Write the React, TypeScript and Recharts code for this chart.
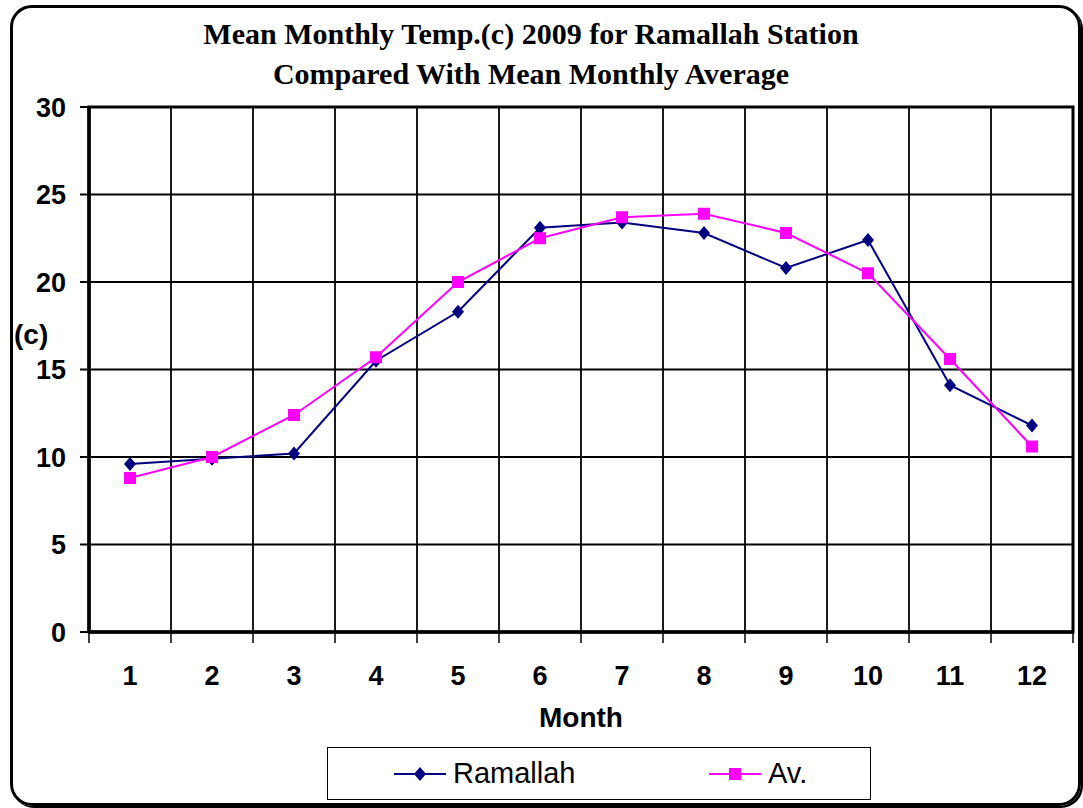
import React from 'react'
import { LineChart, Line, XAxis, YAxis, CartesianGrid, Legend, ReferenceArea } from 'recharts'

const months = [1, 2, 3, 4, 5, 6, 7, 8, 9, 10, 11, 12]
const ramallah = [9.6, 9.9, 10.2, 15.5, 18.3, 23.1, 23.4, 22.8, 20.8, 22.4, 14.1, 11.8]
const average = [8.8, 10.0, 12.4, 15.7, 20.0, 22.5, 23.7, 23.9, 22.8, 20.5, 15.6, 10.6]
const yTicks = [0, 5, 10, 15, 20, 25, 30]

const data = months.map((m, i) => ({ month: m, ramallah: ramallah[i], av: average[i] }))
// category boundaries for the vertical grid
const boundaries = [...months.map((m) => m - 0.5), months[months.length - 1] + 0.5]
const xDomain = [boundaries[0], boundaries[boundaries.length - 1]]

const sans = '"Liberation Sans", Arial, sans-serif'
const serif = '"Liberation Serif", "Times New Roman", serif'
const NAVY = '#000080'
const MAGENTA = '#FF00FF'

const Diamond = (props: any) => {
  const { cx, cy } = props
  if (cx == null || cy == null) return null
  return <polygon points={`${cx},${cy - 7} ${cx + 6},${cy} ${cx},${cy + 7} ${cx - 6},${cy}`} fill={NAVY} />
}

const Square = (props: any) => {
  const { cx, cy } = props
  if (cx == null || cy == null) return null
  return <rect x={cx - 6} y={cy - 6} width={12} height={12} fill={MAGENTA} />
}

const EmptyTick = () => <g />

const legendOrder = ['ramallah', 'av']

const LegendBox = (props: any) => {
  const { payload = [] } = props
  const items = legendOrder.map((k) => payload.find((p: any) => p.dataKey === k)).filter(Boolean)
  return (
    <div
      style={{
        width: '100%',
        height: '100%',
        boxSizing: 'border-box',
        border: '1.5px solid #000',
        background: '#fff',
        position: 'relative',
        fontFamily: sans,
        fontSize: 29,
        color: '#000',
      }}
    >
      {items.map((entry: any, i: number) => (
        <div
          key={entry.value}
          style={{ position: 'absolute', left: i === 0 ? 66 : 381, top: 9, display: 'flex', alignItems: 'center', lineHeight: '33px' }}
        >
          <svg width={52} height={20} style={{ marginRight: 7 }}>
            <line x1={0} y1={10} x2={52} y2={10} stroke={entry.color} strokeWidth={2} />
            {entry.dataKey === 'ramallah' ? (
              <polygon points="26,3 32,10 26,17 20,10" fill={entry.color} />
            ) : (
              <rect x={20} y={4} width={12} height={12} fill={entry.color} />
            )}
          </svg>
          <span>{entry.value}</span>
        </div>
      ))}
    </div>
  )
}

export default function App() {
  return (
    <div style={{ position: 'absolute', left: 0, top: 0, width: 1083, height: 808, background: '#fff', overflow: 'hidden' }}>
      <div
        style={{
          position: 'absolute',
          left: 10,
          top: 5,
          width: 1071,
          height: 801,
          boxSizing: 'border-box',
          border: '3px solid #000',
          borderRadius: 22,
          boxShadow: '2px 2px 0 #000',
        }}
      />
      <div
        style={{
          position: 'absolute',
          left: 0,
          top: 14,
          width: 1062,
          textAlign: 'center',
          fontFamily: serif,
          fontWeight: 'bold',
          fontSize: 30,
          lineHeight: '40px',
          color: '#000',
        }}
      >
        <div>Mean Monthly Temp.(c) 2009 for Ramallah Station</div>
        <div>Compared With Mean Monthly Average</div>
      </div>
      <div style={{ position: 'absolute', left: 14, top: 321, fontFamily: sans, fontWeight: 'bold', fontSize: 28, lineHeight: '27px' }}>
        (c)
      </div>
      <div
        style={{
          position: 'absolute',
          left: 481,
          top: 704,
          width: 200,
          textAlign: 'center',
          fontFamily: sans,
          fontWeight: 'bold',
          fontSize: 28,
          lineHeight: '27px',
        }}
      >
        Month
      </div>
      <div style={{ position: 'absolute', left: 0, top: 0 }}>
        <LineChart width={1083} height={808} data={data} margin={{ top: 107, right: 10, left: 0, bottom: 125 }}>
          <CartesianGrid xAxisId="b" stroke="#000" strokeWidth={1.8} verticalFill={[]} horizontalFill={[]} />
          <XAxis
            xAxisId="b"
            type="number"
            dataKey="month"
            domain={xDomain}
            ticks={boundaries}
            interval={0}
            tick={EmptyTick}
            tickSize={11}
            tickLine={{ stroke: '#000', strokeWidth: 1.5 }}
            axisLine={{ stroke: '#000', strokeWidth: 3.5 }}
            height={11}
          />
          <XAxis
            xAxisId="m"
            type="number"
            dataKey="month"
            domain={xDomain}
            ticks={months}
            interval={0}
            tickLine={false}
            axisLine={false}
            tickSize={0}
            tickMargin={23}
            height={40}
            tick={{ fill: '#000', fontFamily: sans, fontWeight: 'bold', fontSize: 27 }}
          />
          <YAxis
            type="number"
            domain={[0, 30]}
            ticks={yTicks}
            interval={0}
            width={89}
            tickSize={9}
            tickMargin={14}
            tickLine={{ stroke: '#000', strokeWidth: 2 }}
            axisLine={{ stroke: '#000', strokeWidth: 3.5 }}
            tick={{ fill: '#000', fontFamily: sans, fontWeight: 'bold', fontSize: 27 }}
          />
          <ReferenceArea xAxisId="b" x1={xDomain[0]} x2={xDomain[1]} y1={0} y2={30} fill="none" fillOpacity={0} stroke="#000" strokeWidth={3} />
          <Line
            xAxisId="m"
            dataKey="ramallah"
            name="Ramallah"
            stroke={NAVY}
            strokeWidth={2}
            dot={<Diamond />}
            activeDot={false}
            isAnimationActive={false}
          />
          <Line
            xAxisId="m"
            dataKey="av"
            name="Av."
            stroke={MAGENTA}
            strokeWidth={2}
            dot={<Square />}
            activeDot={false}
            isAnimationActive={false}
          />
          <Legend
            layout="horizontal"
            verticalAlign="middle"
            align="center"
            content={<LegendBox />}
            wrapperStyle={{ position: 'absolute', left: 327, top: 747, width: 544, height: 53 }}
          />
        </LineChart>
      </div>
    </div>
  )
}
